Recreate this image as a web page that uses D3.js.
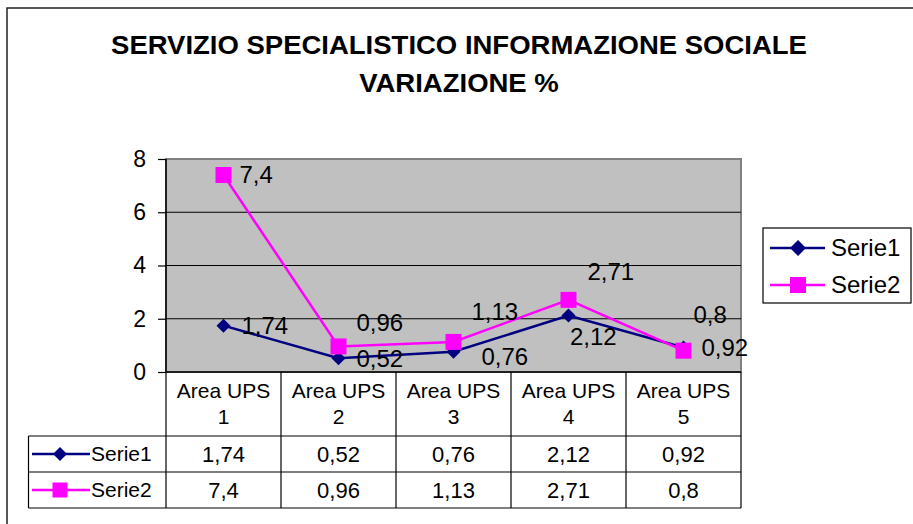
<!DOCTYPE html>
<html>
<head>
<meta charset="utf-8">
<script src="https://cdn.jsdelivr.net/npm/d3@7"></script>
<style>
  html, body { margin: 0; padding: 0; background: #fff; }
  svg { display: block; }
  text { font-family: Arial, "Liberation Sans", sans-serif; fill: #000; }
</style>
</head>
<body>
<svg id="chart" width="913" height="524"></svg>
<script>
// ---- data ----
const categories = ["Area UPS 1", "Area UPS 2", "Area UPS 3", "Area UPS 4", "Area UPS 5"];
const seriesNames = ["Serie1", "Serie2"];
const serie1 = [1.74, 0.52, 0.76, 2.12, 0.92];
const serie2 = [7.4, 0.96, 1.13, 2.71, 0.8];
const yTicks = [0, 2, 4, 6, 8];
const titleLines = ["SERVIZIO SPECIALISTICO INFORMAZIONE SOCIALE", "VARIAZIONE %"];

// ---- layout / style ----
const svg = d3.select("#chart");
const plot = { left: 166, right: 741, top: 159, bottom: 372 };
const colors = ["#000080", "#FF00FF"];
const fmt = v => String(v).replace(".", ",");

const x = d3.scaleBand().domain(categories).range([plot.left, plot.right]).padding(0);
const y = d3.scaleLinear().domain([0, 8]).range([plot.bottom, plot.top]);

// outer chart border (cropped at right/bottom)
svg.append("path")
  .attr("d", "M7,530 L7,8 L920,8")
  .attr("fill", "none").attr("stroke", "#222").attr("stroke-width", 1.5);

// title
titleLines.forEach((t, i) => {
  svg.append("text")
    .attr("transform", `translate(459,${54 + i * 38}) scale(1.1,1)`)
    .attr("text-anchor", "middle")
    .style("font-size", "25px").style("font-weight", "bold")
    .text(t);
});

// plot background
svg.append("rect")
  .attr("x", plot.left).attr("y", plot.top)
  .attr("width", plot.right - plot.left).attr("height", plot.bottom - plot.top)
  .attr("fill", "#C0C0C0").attr("stroke", "#808080").attr("stroke-width", 2);

// gridlines
svg.append("g").selectAll("line")
  .data(yTicks.filter(v => v > 0 && v < 8))
  .join("line")
  .attr("x1", plot.left).attr("x2", plot.right)
  .attr("y1", d => y(d)).attr("y2", d => y(d))
  .attr("stroke", "#000").attr("stroke-width", 1);

// y axis
const yAxis = svg.append("g")
  .attr("transform", `translate(${plot.left},0)`)
  .call(d3.axisLeft(y).tickValues(yTicks).tickSize(8).tickPadding(12).tickFormat(d => d));
yAxis.select(".domain").attr("stroke", "#000").attr("stroke-width", 1.5).attr("d", `M0,${plot.top}V${plot.bottom}`);
yAxis.selectAll(".tick line").attr("stroke", "#000").attr("stroke-width", 1.2);
yAxis.selectAll(".tick text")
  .style("font-size", "23px").style("font-family", "Arial, 'Liberation Sans', sans-serif")
  .attr("fill", "#000");

// bottom axis line
svg.append("line")
  .attr("x1", plot.left).attr("x2", plot.right)
  .attr("y1", plot.bottom).attr("y2", plot.bottom)
  .attr("stroke", "#000").attr("stroke-width", 1.5);

// ---- data table ----
const table = { left: 28.5, headerBottom: 436, row1Bottom: 472, row2Bottom: 508 };
const tg = svg.append("g").attr("stroke", "#000").attr("stroke-width", 1.2);
x.domain().forEach(c => {
  tg.append("line").attr("x1", x(c)).attr("x2", x(c))
    .attr("y1", plot.bottom).attr("y2", table.row2Bottom);
});
tg.append("line").attr("x1", plot.right).attr("x2", plot.right)
  .attr("y1", plot.bottom).attr("y2", table.row2Bottom);
tg.append("line").attr("x1", table.left).attr("x2", table.left)
  .attr("y1", table.headerBottom).attr("y2", table.row2Bottom);
[table.headerBottom, table.row1Bottom, table.row2Bottom].forEach(yy => {
  tg.append("line").attr("x1", table.left).attr("x2", plot.right)
    .attr("y1", yy).attr("y2", yy);
});

// header labels
categories.forEach(c => {
  const parts = c.split(" ");
  const num = parts.pop();
  const cx = x(c) + x.bandwidth() / 2;
  svg.append("text").attr("x", cx).attr("y", 398).attr("text-anchor", "middle")
    .style("font-size", "21px").text(parts.join(" "));
  svg.append("text").attr("x", cx).attr("y", 424).attr("text-anchor", "middle")
    .style("font-size", "21px").text(num);
});

// marker paths
const diamond = s => `M0,${-s}L${s},0L0,${s}L${-s},0Z`;
const square = s => `M${-s},${-s}H${s}V${s}H${-s}Z`;
const markers = [diamond, square];
const markerSize = [7, 8];

// table rows
const allSeries = [serie1, serie2];
const rowCenters = [454, 490];
allSeries.forEach((vals, si) => {
  const cy = rowCenters[si];
  svg.append("line").attr("x1", 32).attr("x2", 90).attr("y1", cy).attr("y2", cy)
    .attr("stroke", colors[si]).attr("stroke-width", 2.5);
  svg.append("path").attr("d", markers[si](si === 0 ? 7 : 7.5))
    .attr("transform", `translate(60,${cy})`).attr("fill", colors[si]);
  svg.append("text").attr("x", 91).attr("y", cy).attr("dy", "0.35em")
    .style("font-size", "21px").text(seriesNames[si]);
  vals.forEach((v, i) => {
    svg.append("text").attr("x", x(categories[i]) + x.bandwidth() / 2).attr("y", cy)
      .attr("dy", "0.35em").attr("text-anchor", "middle")
      .style("font-size", "22px").text(fmt(v));
  });
});

// ---- lines & markers ----
const line = d3.line().x((d, i) => x(categories[i]) + x.bandwidth() / 2).y(d => y(d));
allSeries.forEach((vals, si) => {
  svg.append("path").datum(vals).attr("d", line)
    .attr("fill", "none").attr("stroke", colors[si]).attr("stroke-width", 2.5);
});
allSeries.forEach((vals, si) => {
  svg.append("g").selectAll("path").data(vals).join("path")
    .attr("d", markers[si](markerSize[si]))
    .attr("transform", (d, i) => `translate(${x(categories[i]) + x.bandwidth() / 2},${y(d)})`)
    .attr("fill", colors[si]);
});

// data labels (nudged as in the original)
const labelNudge = [
  [[18, 0], [18, 0], [28, 5], [1.5, 21], [18, 0]],
  [[16, 0], [18, -24], [18, -30], [19, -28], [10, -36]]
];
allSeries.forEach((vals, si) => {
  vals.forEach((v, i) => {
    const px = x(categories[i]) + x.bandwidth() / 2;
    const py = y(v);
    svg.append("text")
      .attr("x", px + labelNudge[si][i][0]).attr("y", py + labelNudge[si][i][1])
      .attr("dy", "0.35em").style("font-size", "24px").text(fmt(v));
  });
});

// ---- legend ----
const lg = svg.append("g");
lg.append("rect").attr("x", 763).attr("y", 228).attr("width", 148).attr("height", 75)
  .attr("fill", "#fff").attr("stroke", "#000").attr("stroke-width", 1.2);
const legendY = [248, 285];
seriesNames.forEach((n, si) => {
  lg.append("line").attr("x1", 770).attr("x2", 825).attr("y1", legendY[si]).attr("y2", legendY[si])
    .attr("stroke", colors[si]).attr("stroke-width", 2.5);
  lg.append("path").attr("d", markers[si](8))
    .attr("transform", `translate(798,${legendY[si]})`).attr("fill", colors[si]);
  lg.append("text").attr("x", 831).attr("y", legendY[si]).attr("dy", "0.35em")
    .style("font-size", "24px").text(n);
});
</script>
</body>
</html>
